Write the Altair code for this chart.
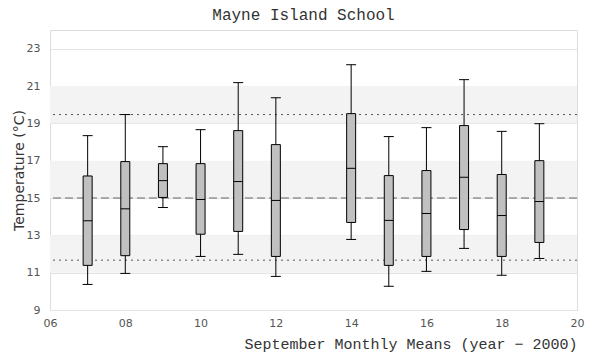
import altair as alt
import pandas as pd

years = [7, 8, 9, 10, 11, 12, 14, 15, 16, 17, 18, 19]
wlo = [10.37, 10.96, 14.49, 11.87, 11.98, 10.80, 12.78, 10.27, 11.07, 12.30, 10.86, 11.76]
q1 = [11.39, 11.91, 15.03, 13.06, 13.21, 11.87, 13.69, 11.39, 11.87, 13.31, 11.87, 12.62]
med = [13.78, 14.42, 15.93, 14.92, 15.88, 14.87, 16.59, 13.80, 14.17, 16.11, 14.06, 14.81]
q3 = [16.18, 16.95, 16.84, 16.84, 18.61, 17.86, 19.52, 16.20, 16.47, 18.88, 16.26, 17.00]
whi = [18.34, 19.47, 17.75, 18.66, 21.18, 20.37, 22.14, 18.29, 18.77, 21.34, 18.57, 18.98]

y_ticks = [9, 11, 13, 15, 17, 19, 21, 23]
x_ticks = [6, 8, 10, 12, 14, 16, 18, 20]
band_lo = [11, 15, 19]
band_hi = [13, 17, 21]
mean_line = [15]
dotted_lines = [19.47, 11.67]

df = pd.DataFrame(dict(year=years, wlo=wlo, q1=q1, med=med, q3=q3, whi=whi))
bands = pd.DataFrame(dict(lo=band_lo, hi=band_hi))
mean_df = pd.DataFrame(dict(v=mean_line))
dot_df = pd.DataFrame(dict(v=dotted_lines))

xscale = alt.Scale(domain=[6, 20], nice=False, zero=False)
yscale = alt.Scale(domain=[9, 24], nice=False, zero=False)

xax = alt.Axis(values=x_ticks,
               labelExpr="datum.value < 10 ? '0' + datum.value : '' + datum.value",
               grid=False, ticks=False, domain=False, labelPadding=7,
               labelFlush=False, labelOverlap=False,
               labelColor="#555", labelFontSize=11, labelFont="DejaVu Sans",
               title="September Monthly Means (year − 2000)",
               titleFont="Liberation Mono", titleFontSize=15, titleFontWeight="normal",
               titleColor="#333", titleAnchor="end", titleAlign="right", titlePadding=8)
yax = alt.Axis(values=y_ticks, grid=True, gridColor="#e3e3e3",
               ticks=False, domain=False, labelPadding=10, labelColor="#555",
               labelFlush=False, labelOverlap=False, tickCount=8,
               labelFontSize=11, labelFont="DejaVu Sans",
               title="Temperature (°C)", titleFont="DejaVu Sans", titleFontSize=14,
               titleFontWeight="normal", titleColor="#333", titlePadding=0)

band_layer = alt.Chart(bands).mark_rect(color="#f3f3f3").encode(
    x=alt.value(0), x2=alt.value(527),
    y=alt.Y("lo:Q", scale=yscale, axis=yax), y2="hi:Q")

base = alt.Chart(df)
xenc = alt.X("year:Q", scale=xscale, axis=xax)

mean_layer = alt.Chart(mean_df).mark_rule(color="#666", strokeDash=[8, 4], strokeWidth=1).encode(
    y=alt.Y("v:Q", scale=yscale, axis=yax))
dot_layer = alt.Chart(dot_df).mark_rule(color="#555", strokeDash=[2, 4], strokeWidth=1).encode(
    y=alt.Y("v:Q", scale=yscale, axis=yax))

whisk = base.mark_rule(color="black", strokeWidth=1).encode(
    x=xenc, y=alt.Y("wlo:Q", scale=yscale, axis=yax), y2="whi:Q")
box = base.mark_rect(fill="#c0c0c0", stroke="black", strokeWidth=1,
                     xOffset=-4.5, x2Offset=4.5).encode(
    x=xenc, x2="year:Q", y=alt.Y("q1:Q", scale=yscale, axis=yax), y2="q3:Q")
medl = base.mark_rule(color="black", strokeWidth=1, xOffset=-4.5, x2Offset=4.5).encode(
    x=xenc, x2="year:Q", y=alt.Y("med:Q", scale=yscale, axis=yax))
caplo = base.mark_rule(color="black", strokeWidth=1, xOffset=-5, x2Offset=5).encode(
    x=xenc, x2="year:Q", y=alt.Y("wlo:Q", scale=yscale, axis=yax))
caphi = base.mark_rule(color="black", strokeWidth=1, xOffset=-5, x2Offset=5).encode(
    x=xenc, x2="year:Q", y=alt.Y("whi:Q", scale=yscale, axis=yax))

chart = alt.layer(band_layer, mean_layer, dot_layer, whisk, box, medl, caplo, caphi).properties(
    width=527, height=280,
    autosize=alt.AutoSizeParams(type="none"),
    padding={"left": 42, "top": 22, "right": 15, "bottom": 42},
    title=alt.TitleParams("Mayne Island School", font="Liberation Mono", fontSize=16,
                          fontWeight="normal", color="#333", anchor="middle", offset=7, dx=-10),
).configure_view(stroke="#dddddd", strokeWidth=1).configure_axis(
    labelOverlap=False).configure(background="white")

chart.save("out.html", embed_options={"renderer": "svg", "actions": False})
